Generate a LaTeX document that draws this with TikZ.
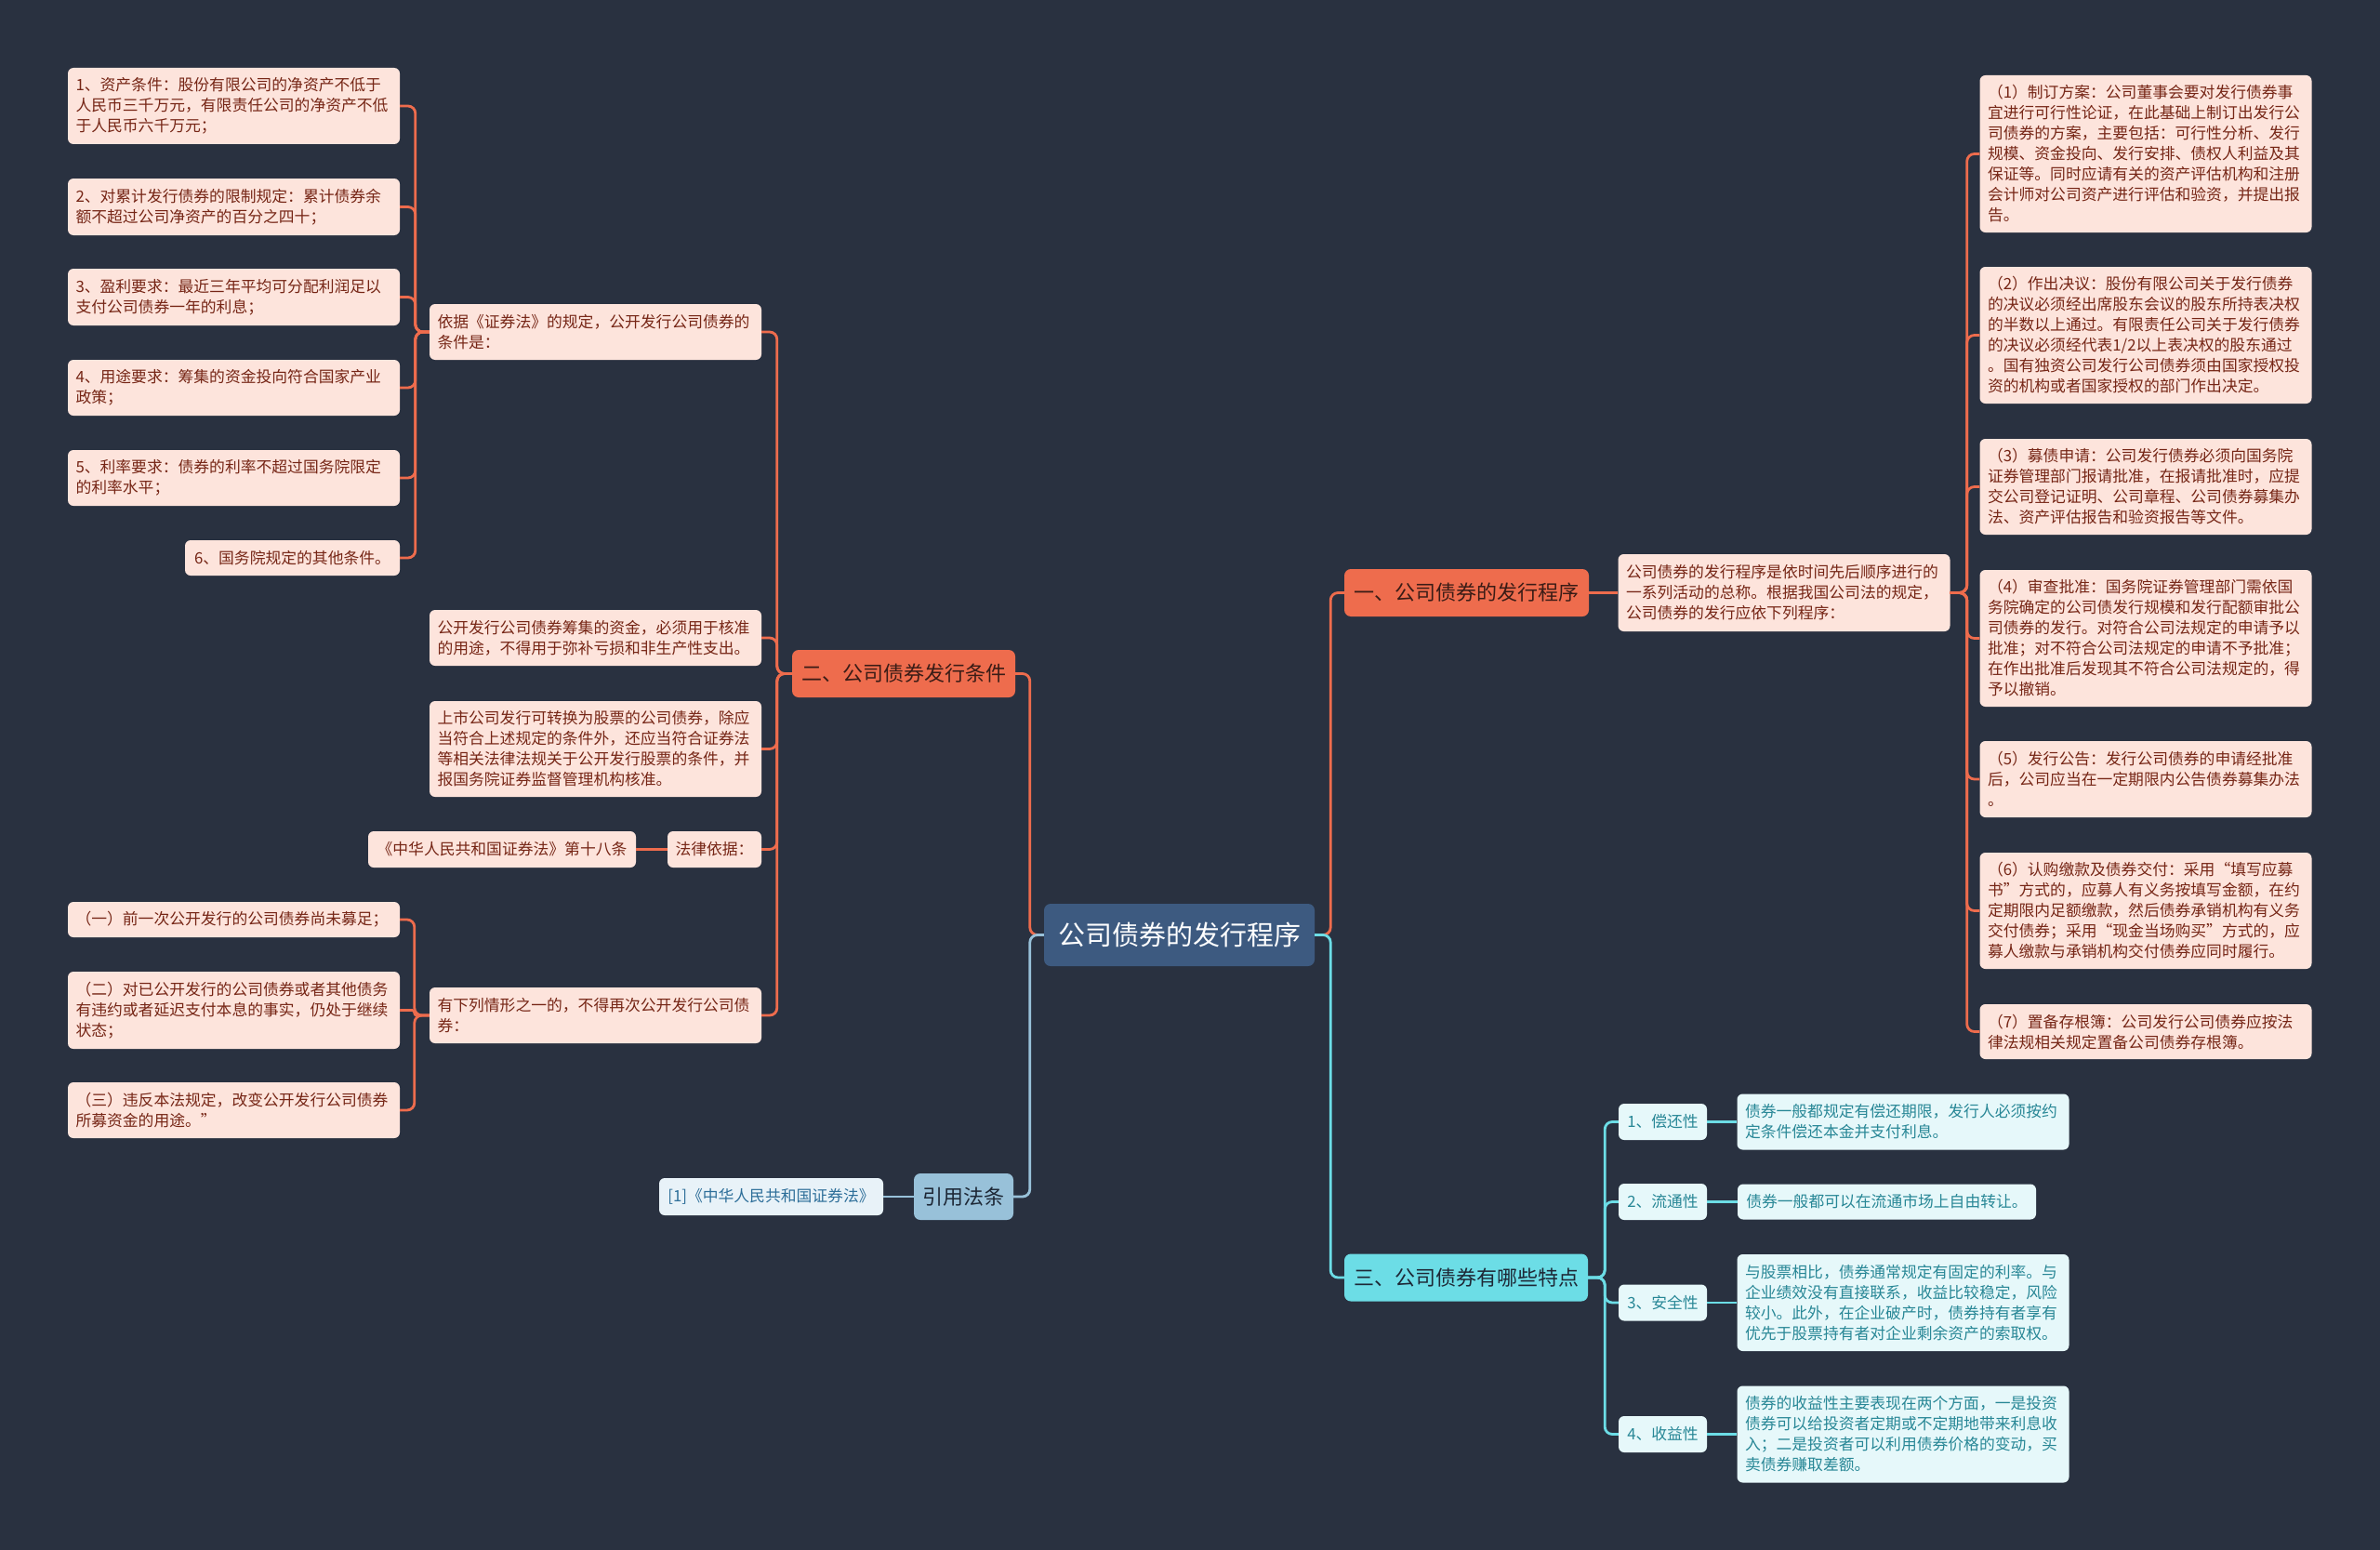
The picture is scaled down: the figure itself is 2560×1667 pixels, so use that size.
\documentclass[tikz,border=0pt]{standalone}
\usepackage{fontspec}
\setmainfont{Noto Sans CJK SC}
\definecolor{bgcol}{RGB}{41,49,64}
\definecolor{orangebg}{RGB}{238,108,77}
\definecolor{branchtxt}{RGB}{58,28,22}
\definecolor{leafbg}{RGB}{253,228,220}
\definecolor{leaftxt}{RGB}{118,38,22}
\definecolor{rootbg}{RGB}{61,90,128}
\definecolor{tealbg}{RGB}{108,221,230}
\definecolor{tealleaf}{RGB}{230,248,250}
\definecolor{tealtxt}{RGB}{40,135,150}
\definecolor{citebg}{RGB}{152,193,217}
\definecolor{citeleaf}{RGB}{232,242,248}
\definecolor{citetxt}{RGB}{45,110,153}
\definecolor{darktxt}{RGB}{30,40,54}

\begin{document}
\begin{tikzpicture}[x=1pt, y=-1pt,
  pinkbox/.style={rectangle, rounded corners=6pt, fill=leafbg, text=leaftxt, font=\fontsize{16.8}{22}\selectfont, align=left, inner xsep=8.5pt, inner ysep=0pt},
  wide/.style={text width=340pt},
  branch/.style={rectangle, rounded corners=7pt, fill=orangebg, text=branchtxt, font=\fontsize{22}{26}\selectfont, inner sep=0pt, minimum height=51pt},
  rootbox/.style={rectangle, rounded corners=7pt, fill=rootbg, text=white, font=\fontsize{29}{34}\selectfont, inner sep=0pt},
  tealbranch/.style={branch, fill=tealbg, text=darktxt},
  tealbox/.style={pinkbox, fill=tealleaf, text=tealtxt},
  citebox/.style={branch, fill=citebg, text=darktxt, minimum height=50pt},
  citeleafbox/.style={pinkbox, fill=citeleaf, text=citetxt},
  oline/.style={draw=orangebg, line width=2.8pt, rounded corners=8pt},
  tline/.style={draw=tealbg, line width=2.8pt, rounded corners=8pt},
  bline/.style={draw=citebg, line width=2.8pt, rounded corners=8pt}
]
\useasboundingbox (0,0) rectangle (2560,1667);
\fill[bgcol] (0,0) rectangle (2560,1667);

% centre and main branches
\node[rootbox, minimum width=291pt, minimum height=67pt] (root) at (1268.5,1005.5) {公司债券的发行程序};
\node[branch, minimum width=263pt] (s1) at (1577.5,637.5) {一、公司债券的发行程序};
\node[branch, minimum width=240pt] (s2) at (972,724.5) {二、公司债券发行条件};
\node[tealbranch, minimum width=262pt] (s3) at (1577,1374) {三、公司债券有哪些特点};
\node[citebox, minimum width=107pt] (s4) at (1036.5,1287) {引用法条};

% branch one
\node[pinkbox, wide, minimum height=83pt] (p1) at (1919,637.5) {公司债券的发行程序是依时间先后顺序进行的\\一系列活动的总称。根据我国公司法的规定，\\公司债券的发行应依下列程序：};
\node[pinkbox, wide, minimum height=169pt] (r1) at (2308,165.5) {（1）制订方案：公司董事会要对发行债券事\\宜进行可行性论证，在此基础上制订出发行公\\司债券的方案，主要包括：可行性分析、发行\\规模、资金投向、发行安排、债权人利益及其\\保证等。同时应请有关的资产评估机构和注册\\会计师对公司资产进行评估和验资，并提出报\\告。};
\node[pinkbox, wide, minimum height=147pt] (r2) at (2308,360.5) {（2）作出决议：股份有限公司关于发行债券\\的决议必须经出席股东会议的股东所持表决权\\的半数以上通过。有限责任公司关于发行债券\\的决议必须经代表1/2以上表决权的股东通过\\。国有独资公司发行公司债券须由国家授权投\\资的机构或者国家授权的部门作出决定。};
\node[pinkbox, wide, minimum height=103pt] (r3) at (2308,523.5) {（3）募债申请：公司发行债券必须向国务院\\证券管理部门报请批准，在报请批准时，应提\\交公司登记证明、公司章程、公司债券募集办\\法、资产评估报告和验资报告等文件。};
\node[pinkbox, wide, minimum height=147pt] (r4) at (2308,686.5) {（4）审查批准：国务院证券管理部门需依国\\务院确定的公司债发行规模和发行配额审批公\\司债券的发行。对符合公司法规定的申请予以\\批准；对不符合公司法规定的申请不予批准；\\在作出批准后发现其不符合公司法规定的，得\\予以撤销。};
\node[pinkbox, wide, minimum height=82pt] (r5) at (2308,838) {（5）发行公告：发行公司债券的申请经批准\\后，公司应当在一定期限内公告债券募集办法\\。};
\node[pinkbox, wide, minimum height=125pt] (r6) at (2308,979.5) {（6）认购缴款及债券交付：采用“填写应募\\书”方式的，应募人有义务按填写金额，在约\\定期限内足额缴款，然后债券承销机构有义务\\交付债券；采用“现金当场购买”方式的，应\\募人缴款与承销机构交付债券应同时履行。};
\node[pinkbox, wide, minimum height=59pt] (r7) at (2308,1109.5) {（7）置备存根簿：公司发行公司债券应按法\\律法规相关规定置备公司债券存根簿。};

% branch two
\node[pinkbox, wide, minimum height=60pt] (b1) at (640.5,357) {依据《证券法》的规定，公开发行公司债券的\\条件是：};
\node[pinkbox, wide, minimum height=82pt] (c1) at (251.5,114) {1、资产条件：股份有限公司的净资产不低于\\人民币三千万元，有限责任公司的净资产不低\\于人民币六千万元；};
\node[pinkbox, wide, minimum height=61pt] (c2) at (251.5,222.5) {2、对累计发行债券的限制规定：累计债券余\\额不超过公司净资产的百分之四十；};
\node[pinkbox, wide, minimum height=61pt] (c3) at (251.5,319.5) {3、盈利要求：最近三年平均可分配利润足以\\支付公司债券一年的利息；};
\node[pinkbox, wide, minimum height=60pt] (c4) at (251.5,417) {4、用途要求：筹集的资金投向符合国家产业\\政策；};
\node[pinkbox, wide, minimum height=60pt] (c5) at (251.5,514) {5、利率要求：债券的利率不超过国务院限定\\的利率水平；};
\node[pinkbox, minimum width=231pt, minimum height=38pt] (c6) at (314.5,600) {6、国务院规定的其他条件。};
\node[pinkbox, wide, minimum height=60pt] (b2) at (640.5,686) {公开发行公司债券筹集的资金，必须用于核准\\的用途，不得用于弥补亏损和非生产性支出。};
\node[pinkbox, wide, minimum height=103pt] (b3) at (640.5,805.5) {上市公司发行可转换为股票的公司债券，除应\\当符合上述规定的条件外，还应当符合证券法\\等相关法律法规关于公开发行股票的条件，并\\报国务院证券监督管理机构核准。};
\node[pinkbox, minimum width=101pt, minimum height=39pt] (b4) at (768.5,913.5) {法律依据：};
\node[pinkbox, minimum width=288pt, minimum height=39pt] (b4a) at (540,913.5) {《中华人民共和国证券法》第十八条};
\node[pinkbox, wide, minimum height=60pt] (b5) at (640.5,1092) {有下列情形之一的，不得再次公开发行公司债\\券：};
\node[pinkbox, wide, minimum height=38pt] (e1) at (251.5,989) {（一）前一次公开发行的公司债券尚未募足；};
\node[pinkbox, wide, minimum height=83pt] (e2) at (251.5,1086.5) {（二）对已公开发行的公司债券或者其他债务\\有违约或者延迟支付本息的事实，仍处于继续\\状态；};
\node[pinkbox, wide, minimum height=60pt] (e3) at (251.5,1194) {（三）违反本法规定，改变公开发行公司债券\\所募资金的用途。”};

% branch three
\node[tealbox, minimum width=95pt, minimum height=39pt] (f1) at (1788.5,1206.5) {1、偿还性};
\node[tealbox, minimum width=95pt, minimum height=39pt] (f2) at (1788.5,1292.5) {2、流通性};
\node[tealbox, minimum width=95pt, minimum height=39pt] (f3) at (1788.5,1401) {3、安全性};
\node[tealbox, minimum width=95pt, minimum height=39pt] (f4) at (1788.5,1542.5) {4、收益性};
\node[tealbox, wide, minimum height=60pt] (d1) at (2047,1206.5) {债券一般都规定有偿还期限，发行人必须按约\\定条件偿还本金并支付利息。};
\node[tealbox, minimum width=321pt, minimum height=38pt] (d2) at (2029.5,1292.5) {债券一般都可以在流通市场上自由转让。};
\node[tealbox, wide, minimum height=104pt] (d3) at (2047,1401) {与股票相比，债券通常规定有固定的利率。与\\企业绩效没有直接联系，收益比较稳定，风险\\较小。此外，在企业破产时，债券持有者享有\\优先于股票持有者对企业剩余资产的索取权。};
\node[tealbox, wide, minimum height=104pt] (d4) at (2047,1542.5) {债券的收益性主要表现在两个方面，一是投资\\债券可以给投资者定期或不定期地带来利息收\\入；二是投资者可以利用债券价格的变动，买\\卖债券赚取差额。};

% citation
\node[citeleafbox, minimum width=241pt, minimum height=40pt] (ref) at (829.5,1287) {[1]《中华人民共和国证券法》};

% connectors
\draw[oline] (root.east) -- ++(17,0) |- (s1.west);
\draw[oline] (root.west) -- ++(-15,0) |- (s2.east);
\draw[tline] (root.east) -- ++(17,0) |- (s3.west);
\draw[bline] (root.west) -- ++(-15,0) |- (s4.east);
\draw[oline] (s1.east) -- (p1.west);
\foreach \n in {r1,r2,r3,r4,r5,r6,r7}
  \draw[oline] (p1.east) -- ++(18,0) |- (\n.west);
\foreach \n in {b1,b2,b3,b4,b5}
  \draw[oline] (s2.west) -- ++(-16,0) |- (\n.east);
\foreach \n in {c1,c2,c3,c4,c5,c6}
  \draw[oline] (b1.west) -- ++(-15,0) |- (\n.east);
\draw[oline] (b4.west) -- (b4a.east);
\foreach \n in {e1,e3}
  \draw[oline] (b5.west) -- ++(-16,0) |- (\n.east);
\draw[oline, rounded corners=2.5pt] (b5.west) -- ++(-16,0) |- (e2.east);
\foreach \n/\m in {f1/d1, f2/d2, f3/d3, f4/d4} {
  \draw[tline] (s3.east) -- ++(18,0) |- (\n.west);
  \draw[tline] (\n.east) -- (\m.west);
}
\draw[bline] (s4.west) -- (ref.east);
\end{tikzpicture}
\end{document}
